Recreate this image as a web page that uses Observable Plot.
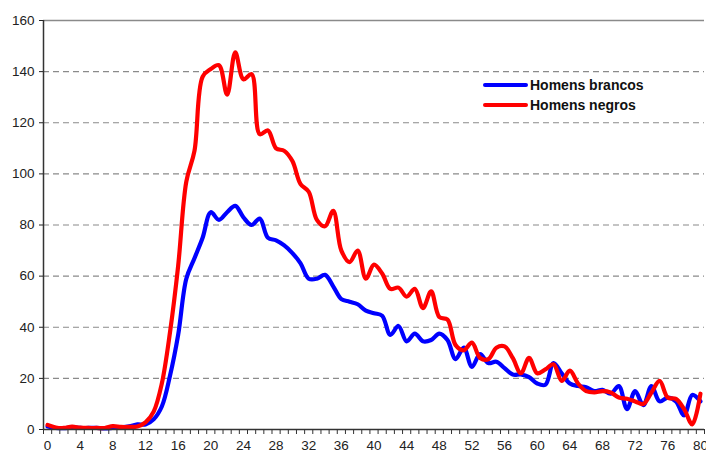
<!DOCTYPE html>
<html><head><meta charset="utf-8">
<script src="https://cdn.jsdelivr.net/npm/d3@7"></script>
<script src="https://cdn.jsdelivr.net/npm/@observablehq/plot@0.6"></script>
<style>
body{margin:0;background:#fff;}
#wrap{position:relative;width:706px;height:452px;overflow:hidden;}
.legend{position:absolute;left:483px;top:75px;font-family:"Liberation Sans",Arial,sans-serif;font-weight:bold;font-size:14px;color:#111;}
.row{display:flex;align-items:center;height:20px;}
.sw{width:45px;height:4.5px;border-radius:2px;margin-right:2px;}
</style></head><body><div id="wrap"></div>
<script>
const ages = [0,1,2,3,4,5,6,7,8,9,10,11,12,13,14,15,16,17,18,19,20,21,22,23,24,25,26,27,28,29,30,31,32,33,34,35,36,37,38,39,40,41,42,43,44,45,46,47,48,49,50,51,52,53,54,55,56,57,58,59,60,61,62,63,64,65,66,67,68,69,70,71,72,73,74,75,76,77,78,79,80];
const brancos = [1.2,0.6,0.5,0.8,0.6,0.6,0.6,0.4,0.6,0.8,1.2,2.0,2.0,4,9,21,37,59,67,75,85,82,85,87.5,83,80,82.5,75,74,72,69,65,59,59,60.5,56,51,50,49,46.5,45.5,44.5,37,40.5,34.5,37.5,34.5,35,37.5,35,27.5,32,24.5,29.5,26,26.5,24,21.5,21.5,20.5,18,17.5,26,22,18,17,16.5,15,15.5,14,17,8,15,9.5,17,11,12.5,11,5.5,13.5,11];
const negros = [1.8,0.8,0.6,1.1,0.7,0.6,0.6,0.6,1.3,1.0,1.0,1.2,2.8,7,18,38,64,97,109,138,141,142.5,131,147.5,137,139,115.5,117,110,109,105,96,93,82,79.5,85.5,70,65.5,70,59,64.5,61,55,55.5,52,55,47.5,54,44,43,33,31,34,28,27.5,32,32.5,28,22,28,22,23.5,25.5,19,23,18,15,14.5,15,14.5,12.5,12,11,10,14.5,19,12.5,12,8,2,14];
const seriesNames = ["Homens brancos", "Homens negros"];
const seriesColors = ["#0000ff", "#ff0000"];
const yTicks = [0,20,40,60,80,100,120,140,160];
const xTickLabels = [0,4,8,12,16,20,24,28,32,36,40,44,48,52,56,60,64,68,72,76,80];
const xTickMarks = ages.map(a => a - 0.5).concat([80.5]);

const data = [];
ages.forEach((a, i) => data.push({age: a, v: brancos[i], s: seriesNames[0]}));
ages.forEach((a, i) => data.push({age: a, v: negros[i], s: seriesNames[1]}));

const chart = Plot.plot({
  width: 706, height: 452,
  marginLeft: 43, marginRight: 2, marginTop: 20, marginBottom: 23,
  style: {fontFamily: "'Liberation Sans', Arial, sans-serif", fontSize: "13.5px", color: "#222", background: "#fff"},
  x: {domain: [-0.5, 80.5], label: null},
  y: {domain: [0, 160], label: null},
  color: {domain: seriesNames, range: seriesColors},
  marks: [
    Plot.ruleY(yTicks.filter(d => d > 0 && d < 160), {stroke: "#8a8a8a", strokeDasharray: "6,4", strokeWidth: 1.2}),
    Plot.ruleY([160], {stroke: "#8a8a8a", strokeWidth: 1.5}),
    Plot.line(data, {x: "age", y: "v", z: "s", stroke: "s", strokeWidth: 4.2, curve: "catmull-rom", strokeLinejoin: "round", strokeLinecap: "round"}),
    Plot.ruleY([0], {stroke: "#333", strokeWidth: 1.5}),
    Plot.ruleX([-0.5], {stroke: "#333", strokeWidth: 1.5}),
    Plot.axisY(yTicks, {tickSize: 4, tickPadding: 5, color: "#222", label: null}),
    Plot.axisX(xTickMarks, {tickSize: 5, tickFormat: () => "", color: "#333", label: null}),
    Plot.axisX(xTickLabels, {tickSize: 0, tickPadding: 11, color: "#222", label: null})
  ]
});
const wrap = document.getElementById("wrap");
wrap.appendChild(chart);
const legend = document.createElement("div");
legend.className = "legend";
seriesNames.forEach((n, i) => {
  const row = document.createElement("div");
  row.className = "row";
  const sw = document.createElement("span");
  sw.className = "sw";
  sw.style.background = seriesColors[i];
  const t = document.createElement("span");
  t.textContent = n;
  row.appendChild(sw); row.appendChild(t);
  legend.appendChild(row);
});
wrap.appendChild(legend);
</script></body></html>
